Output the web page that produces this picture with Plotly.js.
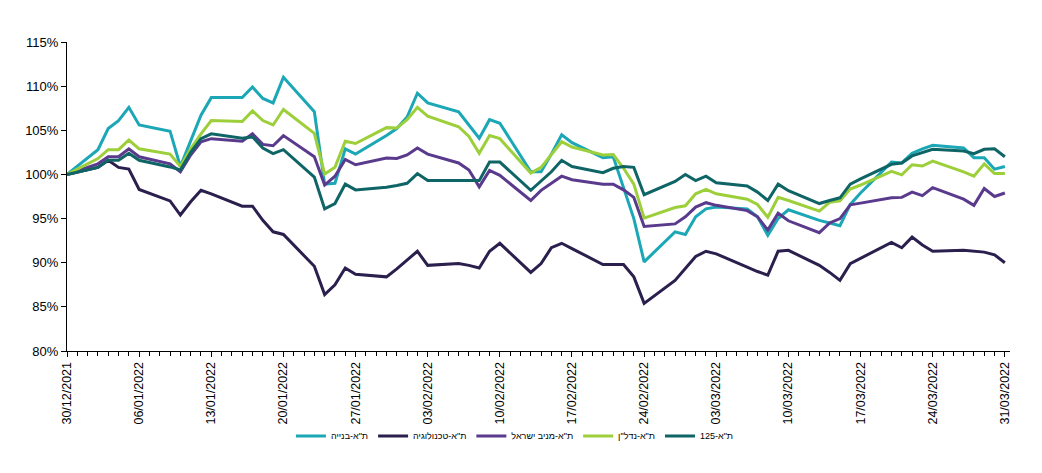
<!DOCTYPE html>
<html>
<head>
<meta charset="utf-8">
<script src="https://cdn.plot.ly/plotly-3.0.1.min.js"></script>
<style>
html,body{margin:0;padding:0;background:#fff;}
#chart{width:1042px;height:473px;}
</style>
</head>
<body>
<div id="chart"></div>
<script>
const dates = [
'2021-12-30',
'2022-01-02','2022-01-03','2022-01-04','2022-01-05','2022-01-06',
'2022-01-09','2022-01-10','2022-01-11','2022-01-12','2022-01-13',
'2022-01-16','2022-01-17','2022-01-18','2022-01-19','2022-01-20',
'2022-01-23','2022-01-24','2022-01-25','2022-01-26','2022-01-27',
'2022-01-30','2022-01-31','2022-02-01','2022-02-02','2022-02-03',
'2022-02-06','2022-02-07','2022-02-08','2022-02-09','2022-02-10',
'2022-02-13','2022-02-14','2022-02-15','2022-02-16','2022-02-17',
'2022-02-20','2022-02-21','2022-02-22','2022-02-23','2022-02-24',
'2022-02-27','2022-02-28','2022-03-01','2022-03-02','2022-03-03',
'2022-03-06','2022-03-07','2022-03-08','2022-03-09','2022-03-10',
'2022-03-13','2022-03-14','2022-03-15','2022-03-16','2022-03-17',
'2022-03-20','2022-03-21','2022-03-22','2022-03-23','2022-03-24',
'2022-03-27','2022-03-28','2022-03-29','2022-03-30','2022-03-31'
];

const construction = [100,
102.8,105.2,106.1,107.6,105.6,
104.9,100.9,103.8,106.7,108.7,
108.7,109.9,108.6,108.1,111.0,
107.1,98.9,99.0,102.9,102.3,
104.4,105.2,106.5,109.2,108.1,
107.1,105.6,104.1,106.2,105.8,
100.3,100.3,102.3,104.5,103.6,
101.9,102.0,98.6,95.0,90.1,
93.5,93.2,95.2,96.1,96.3,
96.1,95.2,93.1,95.0,96.0,
94.8,94.5,94.2,96.6,97.9,
101.4,101.3,102.4,102.9,103.3,
103.0,101.9,101.9,100.6,100.9];

const technology = [100,
100.8,101.6,100.8,100.6,98.3,
97.0,95.4,96.9,98.2,97.8,
96.4,96.4,94.8,93.5,93.2,
89.6,86.4,87.5,89.4,88.7,
88.4,89.3,90.3,91.3,89.7,
89.9,89.7,89.4,91.3,92.2,
88.9,89.9,91.7,92.2,91.6,
89.8,89.8,89.8,88.4,85.4,
88.0,89.4,90.7,91.3,91.0,
89.5,89.0,88.6,91.3,91.4,
89.7,88.9,88.0,89.9,90.5,
92.3,91.7,92.9,92.0,91.3,
91.4,91.3,91.2,90.9,90.0];

const incomeIsrael = [100,
101.2,102.0,102.0,102.9,102.0,
101.2,100.3,102.2,103.7,104.05,
103.75,104.6,103.4,103.25,104.4,
102.0,98.8,99.8,101.7,101.1,
101.85,101.8,102.2,103.0,102.3,
101.3,100.5,98.6,100.45,99.9,
97.05,98.2,99.0,99.8,99.4,
98.9,98.9,98.25,97.4,94.1,
94.4,95.2,96.3,96.8,96.5,
95.9,95.2,93.7,95.6,94.75,
93.4,94.5,95.0,96.55,96.75,
97.35,97.4,98.0,97.6,98.5,
97.2,96.5,98.4,97.5,97.9];

const realEstate = [100,
101.8,102.8,102.8,103.9,102.9,
102.3,100.9,102.9,104.6,106.1,
106.0,107.2,106.1,105.6,107.35,
104.65,100.05,100.8,103.75,103.5,
105.3,105.25,106.2,107.6,106.6,
105.4,104.3,102.4,104.4,104.05,
100.15,100.8,102.3,103.7,103.1,
102.2,102.25,100.7,98.9,95.05,
96.25,96.45,97.8,98.3,97.8,
97.2,96.6,95.15,97.4,97.05,
95.85,96.85,97.0,98.35,98.8,
100.35,99.95,101.1,100.95,101.5,
100.3,99.8,101.2,100.1,100.1];

const ta125 = [100,
100.8,101.6,101.6,102.4,101.6,
100.85,100.5,102.5,104.05,104.6,
104.1,104.25,103.0,102.35,102.8,
99.7,96.1,96.7,98.9,98.25,
98.55,98.75,99.0,100.1,99.3,
99.3,99.3,99.3,101.4,101.4,
98.2,99.2,100.3,101.6,100.9,
100.2,100.7,100.9,100.8,97.7,
99.2,100.0,99.3,99.8,99.05,
98.7,98.0,97.05,98.9,98.15,
96.7,97.05,97.35,98.9,99.5,
101.15,101.3,102.1,102.45,102.85,
102.65,102.35,102.85,102.9,102.0];

const seriesNames = ['ת"א-בנייה','ת"א-טכנולוגיה','ת"א-מניב ישראל','ת"א-נדל"ן','ת"א-125'];
const seriesData = [construction, technology, incomeIsrael, realEstate, ta125];
const seriesColors = ['#1ba7b6','#2b1f4d','#5a3a8c','#9dcf3a','#0f6566'];

const traces = seriesData.map((vals, i) => ({
  type: 'scatter',
  mode: 'lines',
  x: dates,
  y: vals,
  name: seriesNames[i],
  line: {color: seriesColors[i], width: 3},
  hoverinfo: 'x+y+name'
}));

const font = 'Liberation Sans, Arial, sans-serif';

const layout = {
  width: 1042,
  height: 473,
  margin: {l: 67, r: 32, t: 42, b: 122},
  paper_bgcolor: '#ffffff',
  plot_bgcolor: '#ffffff',
  font: {family: font, size: 13, color: '#000'},
  showlegend: true,
  legend: {
    orientation: 'h',
    x: 0.475, xanchor: 'center',
    y: -0.228, yanchor: 'top',
    bgcolor: 'rgba(0,0,0,0)',
    font: {family: font, size: 9, color: '#000'},
    itemwidth: 30,
    traceorder: 'normal'
  },
  xaxis: {
    type: 'date',
    range: ['2021-12-30', '2022-03-31 12:00'],
    tick0: '2021-12-30',
    dtick: 7 * 86400000,
    tickformat: '%d/%m/%Y',
    tickangle: -90,
    ticks: 'outside',
    ticklen: 5,
    tickcolor: '#000',
    showline: true,
    linecolor: '#000',
    linewidth: 1,
    showgrid: false,
    zeroline: false,
    tickfont: {family: font, size: 12.5, color: '#000'},
    minor: {dtick: 86400000, tick0: '2021-12-30', ticks: 'outside', ticklen: 4, tickcolor: '#000', showgrid: false}
  },
  yaxis: {
    range: [80, 115],
    dtick: 5,
    tick0: 80,
    ticksuffix: '%',
    ticks: 'outside',
    ticklen: 5,
    tickcolor: '#000',
    showline: true,
    linecolor: '#000',
    linewidth: 1,
    showgrid: false,
    zeroline: false,
    tickfont: {family: font, size: 13, color: '#000'}
  }
};

Plotly.newPlot('chart', traces, layout, {displayModeBar: false, staticPlot: true});
</script>
</body>
</html>
